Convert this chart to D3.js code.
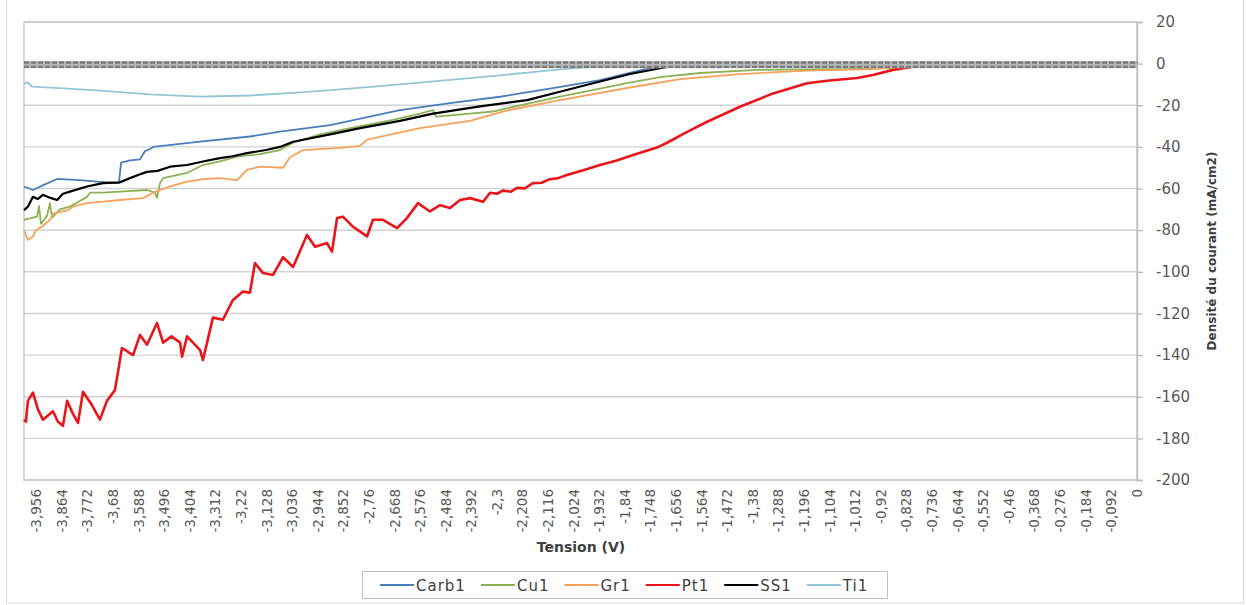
<!DOCTYPE html>
<html>
<head>
<meta charset="utf-8">
<script src="https://cdnjs.cloudflare.com/ajax/libs/d3/7.8.5/d3.min.js"></script>
<style>
  body { margin: 0; background: #fff; }
  text { font-family: "DejaVu Sans", sans-serif; }
</style>
</head>
<body>
<div id="chart"></div>
<script>
// series names, colours (Excel palette), and [tension V, density mA/cm2] pairs
var seriesNames = ["Carb1", "Cu1", "Gr1", "Pt1", "SS1", "Ti1"];
var seriesColors = ["#4a7ebb", "#8db255", "#f5a25c", "#e8161b", "#000000", "#93c6d6"];

var carb1 = [[-4.000,-59],[-3.968,-60.7],[-3.925,-58],[-3.881,-55.4],[-3.799,-56],[-3.727,-56.8],[-3.659,-57.4],
  [-3.651,-47.5],[-3.619,-46.5],[-3.583,-46],[-3.565,-42],[-3.547,-41],[-3.536,-40],[-3.367,-37.5],[-3.188,-35],
  [-3.080,-32.7],[-2.900,-29.5],[-2.649,-22.3],[-2.469,-19],[-2.289,-15.9],[-2.110,-12],[-1.930,-7.9],
  [-1.750,-2],[-1.642,-0.5],[-1.499,0],[0,0]];

var cu1 = [[-4.000,-75],[-3.968,-74],[-3.953,-73.5],[-3.946,-68.5],[-3.939,-77],[-3.917,-73],[-3.907,-67],
  [-3.899,-74],[-3.871,-70],[-3.835,-68.7],[-3.799,-66],[-3.774,-64],[-3.763,-62],[-3.716,-62],[-3.655,-61.5],
  [-3.558,-60.7],[-3.529,-62],[-3.522,-64.5],[-3.511,-57.4],[-3.500,-55],[-3.414,-52.5],[-3.357,-48.7],
  [-3.296,-47],[-3.234,-44.7],[-3.152,-43.5],[-3.080,-41.5],[-3.033,-38],[-2.936,-34],[-2.828,-31],
  [-2.674,-27],[-2.577,-24],[-2.530,-22.3],[-2.519,-25.5],[-2.397,-24],[-2.314,-23],[-2.264,-21.4],
  [-2.074,-15.9],[-1.930,-12],[-1.833,-9.4],[-1.714,-6.5],[-1.570,-4.5],[-1.366,-3],[-1.031,-2.5],
  [-0.769,-1],[-0.672,0],[0,0]];

var gr1 = [[-4.000,-80],[-3.986,-84.7],[-3.968,-83],[-3.957,-80],[-3.932,-78],[-3.907,-75],[-3.896,-72],
  [-3.845,-70.5],[-3.824,-68.7],[-3.774,-67],[-3.716,-66.3],[-3.655,-65.5],[-3.572,-64.6],[-3.536,-62],
  [-3.511,-60.7],[-3.475,-59],[-3.414,-56.7],[-3.357,-55.5],[-3.296,-55],[-3.234,-56],[-3.199,-51],
  [-3.152,-49.5],[-3.069,-50],[-3.044,-45],[-2.997,-41.5],[-2.864,-40.5],[-2.792,-39.5],[-2.767,-36.5],
  [-2.577,-31],[-2.397,-27.5],[-2.264,-22.5],[-2.074,-17.5],[-1.833,-11.7],[-1.642,-7.4],[-1.427,-5],
  [-1.186,-3.4],[-0.949,-2.6],[-0.733,-1],[-0.636,-0.5],[0,-0.3]];

var pt1 = [[-4.000,-171],[-3.993,-172],[-3.986,-162],[-3.968,-158],[-3.950,-166],[-3.932,-171],[-3.896,-167],
  [-3.878,-172],[-3.860,-174],[-3.845,-162],[-3.825,-168],[-3.806,-172.6],[-3.788,-157.6],[-3.756,-164],
  [-3.727,-171],[-3.702,-162],[-3.673,-156.8],[-3.648,-136.6],[-3.608,-140],[-3.583,-130.3],[-3.558,-135],
  [-3.522,-124.6],[-3.500,-134],[-3.470,-131],[-3.439,-134],[-3.432,-140.8],[-3.414,-131],[-3.367,-137.6],
  [-3.357,-142.4],[-3.321,-122],[-3.285,-123],[-3.249,-113.5],[-3.213,-109.5],[-3.188,-110],[-3.170,-95.8],
  [-3.141,-100.6],[-3.105,-101.5],[-3.069,-93],[-3.033,-97.7],[-2.983,-82.3],[-2.954,-88],[-2.911,-86.2],
  [-2.893,-90.3],[-2.875,-74.2],[-2.854,-73.5],[-2.818,-78.3],[-2.767,-83],[-2.746,-75],[-2.710,-75],
  [-2.659,-79],[-2.624,-74.2],[-2.584,-67],[-2.541,-71],[-2.505,-68],[-2.469,-69.3],[-2.433,-65.5],
  [-2.397,-64.6],[-2.350,-66.3],[-2.325,-62],[-2.300,-62.5],[-2.280,-61],[-2.250,-61.5],[-2.228,-59.7],
  [-2.200,-59.9],[-2.171,-57.4],[-2.140,-57.2],[-2.110,-55.5],[-2.080,-55],[-2.049,-53.5],[-1.990,-51.2],
  [-1.930,-48.7],[-1.870,-46.5],[-1.811,-43.9],[-1.720,-40],[-1.689,-38],[-1.620,-33],[-1.545,-27.9],
  [-1.427,-20.7],[-1.308,-14.3],[-1.186,-9.4],[-1.114,-8.2],[-1.006,-6.9],[-0.949,-5.5],[-0.877,-3],
  [-0.805,-1.5],[-0.708,-1.5],[-0.133,-0.8],[0,0]];

var ss1 = [[-4.000,-70.4],[-3.986,-68.7],[-3.968,-64],[-3.950,-65],[-3.932,-63],[-3.905,-64.5],[-3.881,-65.5],
  [-3.860,-62.5],[-3.835,-61.5],[-3.774,-59],[-3.716,-57.4],[-3.655,-57],[-3.619,-55],[-3.590,-53.5],
  [-3.558,-52],[-3.520,-51.5],[-3.475,-49.5],[-3.414,-48.7],[-3.357,-47],[-3.296,-45.4],[-3.250,-44.5],
  [-3.199,-43],[-3.130,-41.5],[-3.080,-40],[-3.033,-37.5],[-2.900,-34],[-2.792,-31],[-2.649,-27.5],
  [-2.530,-24],[-2.361,-20.5],[-2.192,-17.5],[-2.074,-13.5],[-1.955,-9.4],[-1.822,-5],[-1.714,-2.2],
  [-1.642,-0.5],[-1.570,0],[-0.005,0],[0,0.8]];

var ti1 = [[-4.000,-9.5],[-3.986,-9.2],[-3.971,-11],[-3.871,-11.8],[-3.727,-13],[-3.547,-14.8],[-3.367,-15.8],
  [-3.188,-15.3],[-3.008,-13.8],[-2.828,-12],[-2.649,-10],[-2.469,-7.8],[-2.289,-5.6],[-2.110,-3.2],
  [-1.930,-1.2],[-1.750,-0.3],[-1.570,0],[0,0]];

var seriesData = [carb1, cu1, gr1, pt1, ss1, ti1];

// axis ticks
var xTickValues = d3.range(44).map(function (i) { return +(-3.956 + i * 0.092).toFixed(3); });
var yTickValues = d3.range(-200, 21, 20);
var xTitle = "Tension (V)";
var yTitle = "Densité du courant (mA/cm2)";

var W = 1246, H = 605;
var plot = {left: 24, right: 1137, top: 22, bottom: 480};

var svg = d3.select("#chart")
  .append("svg")
    .attr("width", W)
    .attr("height", H);

svg.append("rect").attr("width", W).attr("height", H).attr("fill", "#fff");
// outer chart border
svg.append("rect")
  .attr("x", 6.5).attr("y", -2).attr("width", 1237).attr("height", 605)
  .attr("fill", "none").attr("stroke", "#d9d9d9");

var x = d3.scaleLinear().domain([-4, 0]).range([plot.left, plot.right]);
var y = d3.scaleLinear().domain([-200, 20]).range([plot.bottom, plot.top]);

// gridlines
svg.append("g")
  .selectAll("line")
  .data(yTickValues)
  .enter()
  .append("line")
    .attr("x1", plot.left).attr("x2", plot.right)
    .attr("y1", function (d) { return y(d); })
    .attr("y2", function (d) { return y(d); })
    .attr("stroke", "#d2d2d2")
    .attr("stroke-width", 1.4);

// plot border
svg.append("rect")
  .attr("x", plot.left).attr("y", plot.top)
  .attr("width", plot.right - plot.left).attr("height", plot.bottom - plot.top)
  .attr("fill", "none").attr("stroke", "#c6c6c6").attr("stroke-width", 1.4);

// right y axis
var yAxis = svg.append("g")
  .attr("transform", "translate(" + plot.right + ",0)")
  .call(d3.axisRight(y)
    .tickValues(yTickValues)
    .tickSize(6)
    .tickPadding(13)
    .tickFormat(function (d) { return d < 0 ? "-" + Math.abs(d) : String(d); }));
yAxis.select(".domain").attr("stroke", "#bdbdbd").attr("stroke-width", 1.4);
yAxis.selectAll(".tick line").attr("stroke", "#bdbdbd").attr("stroke-width", 1.4);
yAxis.selectAll(".tick text")
  .attr("fill", "#595959")
  .style("font-size", "15px")
  .style("font-family", "DejaVu Sans");

// x tick labels (rotated)
svg.append("g")
  .selectAll("text")
  .data(xTickValues)
  .enter()
  .append("text")
    .attr("transform", function (d) { return "translate(" + x(d) + ",489) rotate(-90)"; })
    .attr("dy", "0.36em")
    .attr("text-anchor", "end")
    .attr("fill", "#595959")
    .style("font-size", "13.5px")
    .text(function (d) { return String(d).replace(".", ","); });

// axis titles
svg.append("text")
  .attr("x", 581).attr("y", 552)
  .attr("text-anchor", "middle")
  .attr("fill", "#404040")
  .style("font-size", "14px")
  .style("font-weight", "bold")
  .text(xTitle);

svg.append("text")
  .attr("transform", "translate(1216," + ((plot.top + plot.bottom) / 2) + ") rotate(-90)")
  .attr("text-anchor", "middle")
  .attr("fill", "#404040")
  .style("font-size", "12px")
  .style("font-weight", "bold")
  .text(yTitle);

// lines
var line = d3.line()
  .x(function (d) { return x(d[0]); })
  .y(function (d) { return y(d[1]); });

svg.append("g")
  .selectAll("path")
  .data(seriesData)
  .enter()
  .append("path")
    .attr("d", line)
    .attr("fill", "none")
    .attr("stroke", function (d, i) { return seriesColors[i]; })
    .attr("stroke-width", function (d, i) { return seriesNames[i] == "Pt1" ? 2.6 : (seriesNames[i] == "SS1" ? 2.2 : 1.8); })
    .attr("stroke-linejoin", "round");

// grey dashed band along zero
var y0 = y(0) + 1;
svg.append("line")
  .attr("x1", plot.left).attr("x2", plot.right).attr("y1", y0).attr("y2", y0)
  .attr("stroke", "#b3b6b9").attr("stroke-width", 7);
[y0 - 2.2, y0 + 2.2].forEach(function (yy) {
  svg.append("line")
    .attr("x1", plot.left).attr("x2", plot.right).attr("y1", yy).attr("y2", yy)
    .attr("stroke", "#7b7b7b").attr("stroke-width", 2.4)
    .attr("stroke-dasharray", "5,2");
});

// legend
var legend = svg.append("g");
legend.append("rect")
  .attr("x", 362.5).attr("y", 571.5).attr("width", 525).attr("height", 27)
  .attr("fill", "#fff").attr("stroke", "#c0c0c0");

var lx = 380;
seriesNames.forEach(function (name, i) {
  legend.append("line")
    .attr("x1", lx).attr("x2", lx + 34).attr("y1", 585).attr("y2", 585)
    .attr("stroke", seriesColors[i]).attr("stroke-width", 2);
  var t = legend.append("text")
    .attr("x", lx + 36).attr("y", 590.5)
    .attr("fill", "#404040")
    .style("font-size", "15px")
    .style("letter-spacing", "1px")
    .text(name);
  lx += 36 + t.node().getComputedTextLength() + 15;
});
</script>
</body>
</html>
